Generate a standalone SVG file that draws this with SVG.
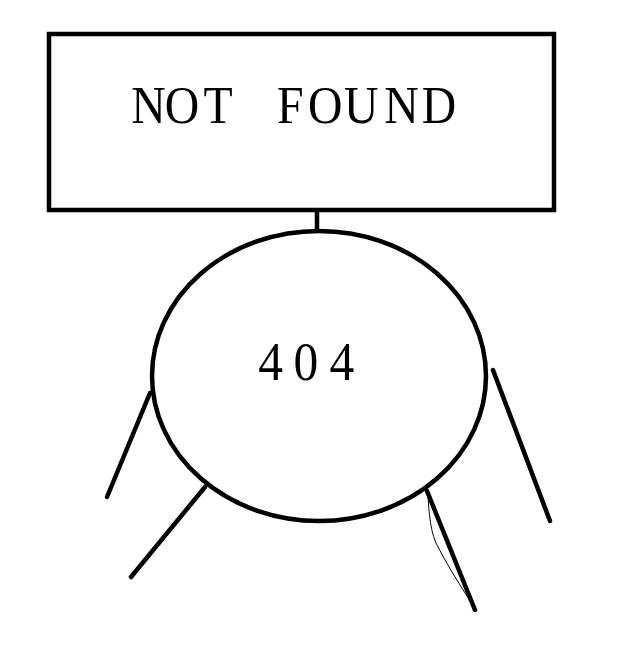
<svg xmlns="http://www.w3.org/2000/svg" width="638" height="657" viewBox="0 0 638 657">
<style>
.s{fill:none;stroke:#000;stroke-width:4.5}
.leg{fill:none;stroke:#000;stroke-width:4.5;stroke-linecap:round}
.t{font-family:"Liberation Serif","DejaVu Serif",serif;fill:#000;text-anchor:middle}
</style>
<rect width="638" height="657" fill="#fff"/>
<g id="connectors">
<line class="s" x1="317" y1="210" x2="317" y2="231"/>
<line class="leg" x1="150" y1="393" x2="107" y2="497"/>
<line class="leg" x1="205" y1="487" x2="131" y2="577"/>
<line class="leg" x1="427" y1="491" x2="475" y2="610"/>
<path d="M428,494 C429,520 432,535 437,545 C447,565 460,585 472,604" fill="none" stroke="#000" stroke-width="1"/>
<line class="leg" x1="493" y1="370" x2="550" y2="521"/>
</g>
<g id="node-notfound">
<rect class="s" x="49" y="34" width="505" height="176"/>
<g transform="scale(0.9 1)">
<text class="t" y="123" font-size="53" x="165 202.2 242.2 322.4 361.3 401.4 446.1 487.8">NOTFOUND</text>
</g>
</g>
<g id="node-404">
<ellipse class="s" cx="319" cy="376" rx="167" ry="145"/>
<g transform="scale(0.9 1)">
<text class="t" y="380" font-size="55" x="300.6 340 380">404</text>
</g>
</g>
</svg>
